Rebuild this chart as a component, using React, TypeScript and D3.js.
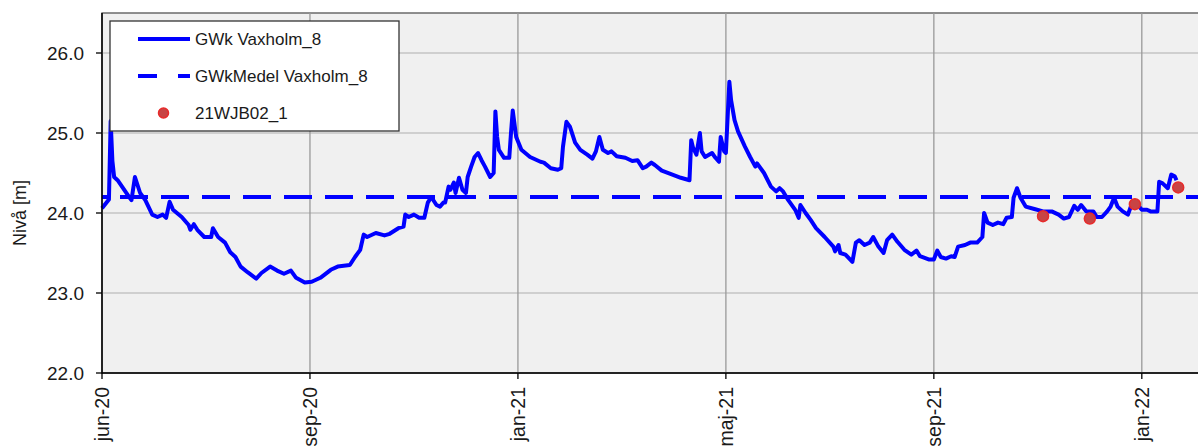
import React from 'react';
import * as d3 from 'd3';

const width = 1198;
const height = 446;

// dagar efter startdatum
const startDate = new Date(Date.UTC(2020, 5, 1));
const dayOffsets = [
  0, 4, 5, 6, 7, 9, 16, 17, 19, 22, 25, 29, 32, 35, 37, 39, 41, 46, 50, 51, 53, 55, 59, 63, 64, 67, 71, 74, 77, 80,
  84, 89, 92, 97, 101, 105, 109, 112, 117, 121, 126, 132, 136, 143, 146, 149, 151, 153, 158, 163, 166, 171, 174, 175,
  177, 180, 183, 186, 188, 190, 193, 195, 197, 198, 200, 201, 203, 204, 206, 208, 210, 211, 213, 215, 217, 219, 221,
  224, 226, 227, 228, 229, 232, 235, 236, 237, 239, 242, 247, 253, 255, 259, 263, 265, 266, 268, 270, 273, 276, 280,
  283, 285, 287, 289, 292, 294, 297, 302, 306, 309, 312, 314, 317, 319, 323, 328, 334, 339, 340, 341, 343, 345, 346,
  348, 352, 354, 356, 357, 359, 360, 362, 363, 365, 367, 371, 374, 377, 378, 382, 386, 389, 391, 393, 396, 400, 402,
  403, 406, 409, 412, 417, 422, 423, 425, 426, 429, 433, 435, 437, 440, 443, 445, 448, 451, 453, 456, 459, 463, 467,
  470, 472, 477, 480, 482, 484, 487, 490, 492, 494, 498, 501, 505, 508, 509, 511, 514, 517, 520, 522, 525, 526, 528,
  530, 533, 538, 543, 548, 552, 555, 558, 561, 563, 565, 568, 572, 574, 577, 580, 582, 584, 586, 589, 592, 594, 596,
  600, 603, 605, 609, 610, 612, 615, 617, 619, 620,
];
const levels = [
  24.06, 24.17, 25.15, 24.65, 24.45, 24.41, 24.19, 24.16, 24.45, 24.25, 24.16, 23.98, 23.95, 23.98, 23.94, 24.14, 24.04,
  23.95, 23.85, 23.79, 23.86, 23.79, 23.7, 23.7, 23.81, 23.7, 23.63, 23.51, 23.45, 23.33, 23.26, 23.18, 23.25, 23.33,
  23.28, 23.24, 23.28, 23.19, 23.13, 23.14, 23.19, 23.29, 23.33, 23.35, 23.45, 23.54, 23.73, 23.7, 23.75, 23.72, 23.74,
  23.81, 23.83, 23.98, 23.95, 23.98, 23.94, 23.94, 24.13, 24.2, 24.1, 24.08, 24.13, 24.13, 24.33, 24.29, 24.38, 24.25,
  24.44, 24.29, 24.25, 24.45, 24.58, 24.7, 24.75, 24.66, 24.58, 24.45, 24.5, 25.27, 24.95, 24.79, 24.69, 24.69, 25.0,
  25.28, 24.95, 24.79, 24.7, 24.64, 24.63, 24.56, 24.54, 24.56, 24.83, 25.14, 25.08, 24.88, 24.79, 24.73, 24.68, 24.77,
  24.95, 24.79, 24.75, 24.77, 24.71, 24.69, 24.65, 24.66, 24.56, 24.58, 24.63, 24.6, 24.53, 24.49, 24.44, 24.41, 24.91,
  24.82, 24.73, 25.0, 24.77, 24.7, 24.75, 24.69, 24.64, 24.95, 24.77, 24.75, 25.64, 25.41, 25.16, 25.02, 24.83, 24.7,
  24.58, 24.62, 24.5, 24.33, 24.27, 24.31, 24.27, 24.16, 24.04, 23.94, 24.1, 24.0, 23.91, 23.81, 23.7, 23.58, 23.52,
  23.6, 23.5, 23.48, 23.39, 23.63, 23.66, 23.6, 23.63, 23.7, 23.58, 23.5, 23.66, 23.73, 23.64, 23.54, 23.48, 23.53,
  23.46, 23.42, 23.42, 23.53, 23.45, 23.43, 23.46, 23.45, 23.58, 23.6, 23.63, 23.63, 23.7, 24.0, 23.88, 23.85, 23.88,
  23.86, 23.94, 23.95, 24.19, 24.31, 24.19, 24.08, 24.05, 24.02, 24.02, 23.98, 23.93, 23.95, 24.09, 24.04, 24.1, 24.02,
  24.02, 23.95, 23.95, 24.02, 24.08, 24.19, 24.08, 24.02, 23.98, 24.1, 24.14, 24.04, 24.04, 24.02, 24.02, 24.39, 24.37,
  24.31, 24.48, 24.46, 24.41,
];
const meanLevel = 24.2;

const sampleDays = [543, 570, 596, 621];
const sampleLevels = [23.96, 23.93, 24.11, 24.32];

const yTicks = [22, 23, 24, 25, 26];
const xTickDays = [0, 120, 240, 360, 480, 600];
const monthNames = ['jan', 'feb', 'mar', 'apr', 'maj', 'jun', 'jul', 'aug', 'sep', 'okt', 'nov', 'dec'];

const legendLabels = ['GWk Vaxholm_8', 'GWkMedel Vaxholm_8', '21WJB02_1'];

const margin = { top: 13, right: -1, bottom: 73, left: 102 };
const font = 'Liberation Sans, Arial, sans-serif';

export default function App() {
  const toDate = (d: number) => d3.utcDay.offset(startDate, d);
  const x = d3
    .scaleUtc()
    .domain([startDate, toDate(633)])
    .range([margin.left, width - margin.right]);
  const y = d3
    .scaleLinear()
    .domain([22, 26.5])
    .range([height - margin.bottom, margin.top]);

  const series = dayOffsets.map((d, i) => ({ date: toDate(d), value: levels[i] }));
  const line = d3
    .line<{ date: Date; value: number }>()
    .x((d) => x(d.date))
    .y((d) => y(d.value));

  const left = margin.left;
  const right = width - margin.right;
  const top = margin.top;
  const bottom = height - margin.bottom;
  const xTicks = xTickDays.map(toDate);
  const fmt = (d: Date) => `${monthNames[d.getUTCMonth()]}-${String(d.getUTCFullYear()).slice(2)}`;

  return (
    <svg
      width={width}
      height={height}
      style={{ position: 'absolute', left: 0, top: 0, background: '#fff' }}
      fontFamily={font}
    >
      <rect x={left} y={top} width={right - left} height={bottom - top} fill="#f0f0f0" stroke="#555" strokeWidth={1.3} />
      {yTicks.slice(1).map((t) => (
        <line key={t} x1={left} x2={right} y1={y(t)} y2={y(t)} stroke="#c4c4c4" strokeWidth={1.5} />
      ))}
      {xTicks.slice(1).map((t, i) => (
        <line key={i} x1={x(t)} x2={x(t)} y1={top} y2={bottom} stroke="#999" strokeWidth={1.3} />
      ))}

      <line
        x1={left}
        x2={right}
        y1={y(meanLevel)}
        y2={y(meanLevel)}
        stroke="#0000ff"
        strokeWidth={4}
        strokeDasharray="28 13"
        strokeDashoffset={23}
      />
      <path d={line(series) ?? ''} fill="none" stroke="#0000ff" strokeWidth={4} strokeLinejoin="round" />
      {sampleDays.map((d, i) => (
        <circle
          key={d}
          cx={x(toDate(d))}
          cy={y(sampleLevels[i])}
          r={5.5}
          fill="#c84444"
          stroke="#e82a2a"
          strokeWidth={1.5}
        />
      ))}

      {/* axlar */}
      <line x1={left} x2={left} y1={top} y2={bottom + 0.5} stroke="#000" strokeWidth={1.5} />
      <line x1={left} x2={right} y1={bottom} y2={bottom} stroke="#000" strokeWidth={1.5} />
      {yTicks.map((t) => (
        <g key={t}>
          <line x1={left - 6} x2={left} y1={y(t)} y2={y(t)} stroke="#000" strokeWidth={1.3} />
          <text x={left - 18} y={y(t)} dy="0.35em" textAnchor="end" fontSize={19} fill="#1a1a1a">
            {d3.format('.1f')(t)}
          </text>
        </g>
      ))}
      {xTicks.map((t, i) => (
        <g key={i}>
          <line x1={x(t)} x2={x(t)} y1={bottom} y2={bottom + 6} stroke="#000" strokeWidth={1.3} />
          <text
            transform={`translate(${x(t)},${bottom + 14}) rotate(-90)`}
            dy="0.35em"
            textAnchor="end"
            fontSize={19.5}
            fill="#1a1a1a"
          >
            {fmt(t)}
          </text>
        </g>
      ))}
      <text transform="translate(20,213) rotate(-90)" dy="0.35em" textAnchor="middle" fontSize={18} fill="#1a1a1a">
        Nivå [m]
      </text>

      {/* legend */}
      <g>
        <rect x={110} y={21} width={289} height={110} fill="#fff" stroke="#333" strokeWidth={1.3} />
        <line x1={138} x2={190} y1={39} y2={39} stroke="#0000ff" strokeWidth={4} />
        <line x1={138} x2={190} y1={76} y2={76} stroke="#0000ff" strokeWidth={4} strokeDasharray="19 21 40" />
        <circle cx={163.5} cy={113} r={5} fill="#c84444" stroke="#e82a2a" strokeWidth={1.5} />
        {legendLabels.map((l, i) => (
          <text key={l} x={195} y={39 + i * 37} dy="0.35em" fontSize={17} fill="#1a1a1a">
            {l}
          </text>
        ))}
      </g>
    </svg>
  );
}
